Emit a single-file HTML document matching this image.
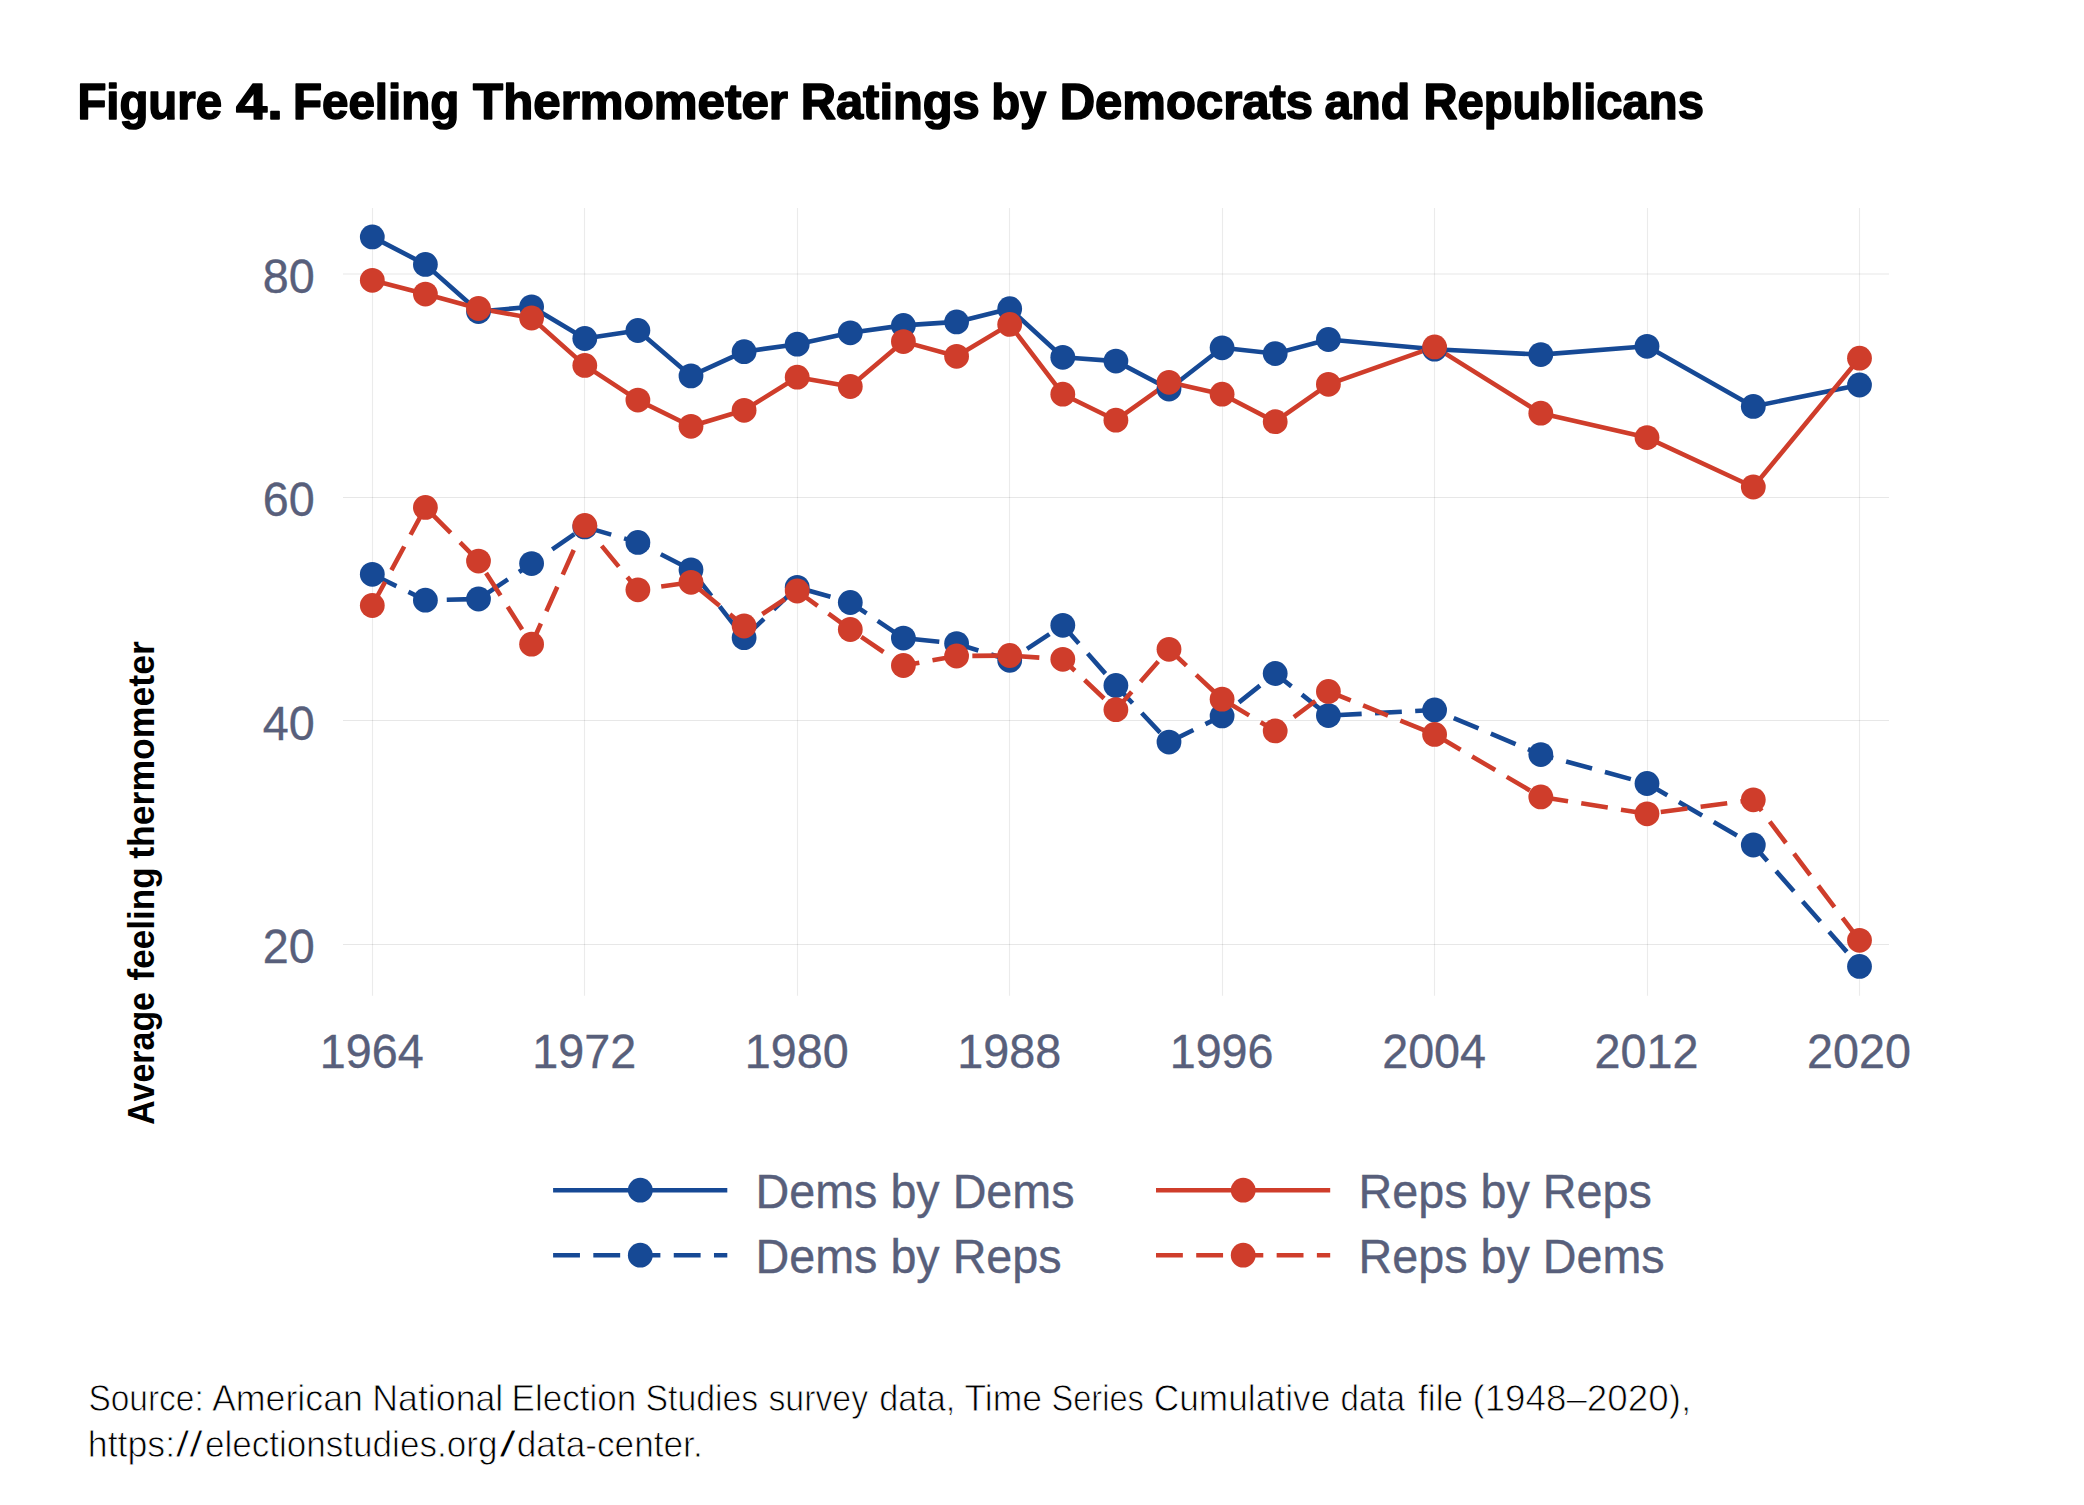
<!DOCTYPE html>
<html lang="en"><head><meta charset="utf-8"><title>Figure 4. Feeling Thermometer Ratings by Democrats and Republicans</title>
<style>
html,body{margin:0;padding:0;background:#fff}
svg{display:block}
text{font-family:"Liberation Sans",sans-serif}
.ax{font-size:46.7px;fill:#585f7b;stroke:#585f7b;stroke-width:0.35px}
.ttl{font-weight:bold;font-size:50.6px;fill:#000;stroke:#000;stroke-width:1.6px;stroke-linejoin:round}
.yl{font-weight:bold;font-size:36px;fill:#000}
.note{font-size:36px;fill:#000;stroke:#fff;stroke-width:0.8px}
</style></head><body>
<svg width="2084" height="1505" viewBox="0 0 2084 1505">
<rect width="2084" height="1505" fill="#fff"/>
<text class="ttl" y="118.5"><tspan x="77.4" textLength="144.6" lengthAdjust="spacingAndGlyphs">Figure</tspan> <tspan x="236.1" textLength="46.8" lengthAdjust="spacingAndGlyphs">4.</tspan> <tspan x="292.9" textLength="166.5" lengthAdjust="spacingAndGlyphs">Feeling</tspan> <tspan x="473.1" textLength="314.9" lengthAdjust="spacingAndGlyphs">Thermometer</tspan> <tspan x="800.7" textLength="179.1" lengthAdjust="spacingAndGlyphs">Ratings</tspan> <tspan x="991.2" textLength="55.2" lengthAdjust="spacingAndGlyphs">by</tspan> <tspan x="1059.7" textLength="253.4" lengthAdjust="spacingAndGlyphs">Democrats</tspan> <tspan x="1324.4" textLength="86.0" lengthAdjust="spacingAndGlyphs">and</tspan> <tspan x="1423.4" textLength="280.5" lengthAdjust="spacingAndGlyphs">Republicans</tspan></text>
<g stroke="#000" fill="none"><line x1="343" x2="1889" y1="274.0" y2="274.0" stroke-opacity="0.095" stroke-width="1.15"/><line x1="343" x2="1889" y1="497.5" y2="497.5" stroke-opacity="0.095" stroke-width="1.15"/><line x1="343" x2="1889" y1="720.5" y2="720.5" stroke-opacity="0.095" stroke-width="1.15"/><line x1="343" x2="1889" y1="944.5" y2="944.5" stroke-opacity="0.095" stroke-width="1.15"/><line x1="372.5" x2="372.5" y1="208" y2="995.7" stroke-opacity="0.08" stroke-width="1.15"/><line x1="584.5" x2="584.5" y1="208" y2="995.7" stroke-opacity="0.08" stroke-width="1.15"/><line x1="797.5" x2="797.5" y1="208" y2="995.7" stroke-opacity="0.08" stroke-width="1.15"/><line x1="1009.5" x2="1009.5" y1="208" y2="995.7" stroke-opacity="0.08" stroke-width="1.15"/><line x1="1222.5" x2="1222.5" y1="208" y2="995.7" stroke-opacity="0.08" stroke-width="1.15"/><line x1="1434.5" x2="1434.5" y1="208" y2="995.7" stroke-opacity="0.08" stroke-width="1.15"/><line x1="1647.5" x2="1647.5" y1="208" y2="995.7" stroke-opacity="0.08" stroke-width="1.15"/><line x1="1859.5" x2="1859.5" y1="208" y2="995.7" stroke-opacity="0.08" stroke-width="1.15"/></g>
<text class="ax" transform="translate(314.6,292.8) scale(1,1.03)" text-anchor="end">80</text><text class="ax" transform="translate(314.6,516.3) scale(1,1.03)" text-anchor="end">60</text><text class="ax" transform="translate(314.6,739.5) scale(1,1.03)" text-anchor="end">40</text><text class="ax" transform="translate(314.6,963.3) scale(1,1.03)" text-anchor="end">20</text>
<text class="ax" transform="translate(371.8,1067.7) scale(1,1.03)" text-anchor="middle">1964</text><text class="ax" transform="translate(584.3,1067.7) scale(1,1.03)" text-anchor="middle">1972</text><text class="ax" transform="translate(796.7,1067.7) scale(1,1.03)" text-anchor="middle">1980</text><text class="ax" transform="translate(1009.2,1067.7) scale(1,1.03)" text-anchor="middle">1988</text><text class="ax" transform="translate(1221.6,1067.7) scale(1,1.03)" text-anchor="middle">1996</text><text class="ax" transform="translate(1434.1,1067.7) scale(1,1.03)" text-anchor="middle">2004</text><text class="ax" transform="translate(1646.5,1067.7) scale(1,1.03)" text-anchor="middle">2012</text><text class="ax" transform="translate(1859.0,1067.7) scale(1,1.03)" text-anchor="middle">2020</text>
<text class="yl" transform="translate(154.1,1124.7) rotate(-90)" y="0"><tspan x="0.0" textLength="132.7" lengthAdjust="spacingAndGlyphs">Average</tspan> <tspan x="144.2" textLength="113.2" lengthAdjust="spacingAndGlyphs">feeling</tspan> <tspan x="265.9" textLength="217.6" lengthAdjust="spacingAndGlyphs">thermometer</tspan></text>
<g fill="none" stroke-width="4.6" stroke-linejoin="round"><polyline stroke="#164995" points="372.3,236.9 425.4,264.4 478.5,311.5 531.6,306.8 584.8,338.5 637.9,330.5 691.0,375.9 744.1,351.7 797.2,344.2 850.3,332.8 903.4,325.4 956.6,321.9 1009.7,308.7 1062.8,357.3 1115.9,361.1 1169.0,389.0 1222.1,347.8 1275.2,353.6 1328.4,339.5 1434.6,349.2 1540.8,354.6 1647.0,346.3 1753.3,406.4 1859.5,385.0"/><polyline stroke="#164995" stroke-dasharray="26.85 13.37" points="372.3,574.3 425.4,600.2 478.5,599.0 531.6,563.6 584.8,526.9 637.9,542.4 691.0,569.8 744.1,637.7 797.2,587.3 850.3,602.5 903.4,638.1 956.6,643.6 1009.7,660.3 1062.8,625.3 1115.9,685.5 1169.0,742.1 1222.1,715.9 1275.2,673.5 1328.4,715.6 1434.6,710.0 1540.8,754.6 1647.0,783.5 1753.3,845.0 1859.5,966.4"/><polyline stroke="#cf3d2b" points="372.3,280.3 425.4,294.1 478.5,308.5 531.6,318.0 584.8,365.4 637.9,400.1 691.0,426.3 744.1,410.3 797.2,377.2 850.3,386.5 903.4,341.6 956.6,356.3 1009.7,324.4 1062.8,394.2 1115.9,420.2 1169.0,382.3 1222.1,394.2 1275.2,421.7 1328.4,384.3 1434.6,346.9 1540.8,413.2 1647.0,437.6 1753.3,487.0 1859.5,358.2"/><polyline stroke="#cf3d2b" stroke-dasharray="26.85 13.37" points="372.3,605.5 425.4,507.4 478.5,561.1 531.6,644.2 584.8,525.4 637.9,589.8 691.0,582.3 744.1,626.0 797.2,591.0 850.3,629.5 903.4,665.5 956.6,656.0 1009.7,655.5 1062.8,659.3 1115.9,709.7 1169.0,649.3 1222.1,699.2 1275.2,730.9 1328.4,691.4 1434.6,734.4 1540.8,796.9 1647.0,813.8 1753.3,799.8 1859.5,940.3"/></g>
<g fill="#164995"><circle cx="372.3" cy="236.9" r="12.4"/><circle cx="425.4" cy="264.4" r="12.4"/><circle cx="478.5" cy="311.5" r="12.4"/><circle cx="531.6" cy="306.8" r="12.4"/><circle cx="584.8" cy="338.5" r="12.4"/><circle cx="637.9" cy="330.5" r="12.4"/><circle cx="691.0" cy="375.9" r="12.4"/><circle cx="744.1" cy="351.7" r="12.4"/><circle cx="797.2" cy="344.2" r="12.4"/><circle cx="850.3" cy="332.8" r="12.4"/><circle cx="903.4" cy="325.4" r="12.4"/><circle cx="956.6" cy="321.9" r="12.4"/><circle cx="1009.7" cy="308.7" r="12.4"/><circle cx="1062.8" cy="357.3" r="12.4"/><circle cx="1115.9" cy="361.1" r="12.4"/><circle cx="1169.0" cy="389.0" r="12.4"/><circle cx="1222.1" cy="347.8" r="12.4"/><circle cx="1275.2" cy="353.6" r="12.4"/><circle cx="1328.4" cy="339.5" r="12.4"/><circle cx="1434.6" cy="349.2" r="12.4"/><circle cx="1540.8" cy="354.6" r="12.4"/><circle cx="1647.0" cy="346.3" r="12.4"/><circle cx="1753.3" cy="406.4" r="12.4"/><circle cx="1859.5" cy="385.0" r="12.4"/><circle cx="372.3" cy="574.3" r="12.4"/><circle cx="425.4" cy="600.2" r="12.4"/><circle cx="478.5" cy="599.0" r="12.4"/><circle cx="531.6" cy="563.6" r="12.4"/><circle cx="584.8" cy="526.9" r="12.4"/><circle cx="637.9" cy="542.4" r="12.4"/><circle cx="691.0" cy="569.8" r="12.4"/><circle cx="744.1" cy="637.7" r="12.4"/><circle cx="797.2" cy="587.3" r="12.4"/><circle cx="850.3" cy="602.5" r="12.4"/><circle cx="903.4" cy="638.1" r="12.4"/><circle cx="956.6" cy="643.6" r="12.4"/><circle cx="1009.7" cy="660.3" r="12.4"/><circle cx="1062.8" cy="625.3" r="12.4"/><circle cx="1115.9" cy="685.5" r="12.4"/><circle cx="1169.0" cy="742.1" r="12.4"/><circle cx="1222.1" cy="715.9" r="12.4"/><circle cx="1275.2" cy="673.5" r="12.4"/><circle cx="1328.4" cy="715.6" r="12.4"/><circle cx="1434.6" cy="710.0" r="12.4"/><circle cx="1540.8" cy="754.6" r="12.4"/><circle cx="1647.0" cy="783.5" r="12.4"/><circle cx="1753.3" cy="845.0" r="12.4"/><circle cx="1859.5" cy="966.4" r="12.4"/></g>
<g fill="#cf3d2b"><circle cx="372.3" cy="280.3" r="12.4"/><circle cx="425.4" cy="294.1" r="12.4"/><circle cx="478.5" cy="308.5" r="12.4"/><circle cx="531.6" cy="318.0" r="12.4"/><circle cx="584.8" cy="365.4" r="12.4"/><circle cx="637.9" cy="400.1" r="12.4"/><circle cx="691.0" cy="426.3" r="12.4"/><circle cx="744.1" cy="410.3" r="12.4"/><circle cx="797.2" cy="377.2" r="12.4"/><circle cx="850.3" cy="386.5" r="12.4"/><circle cx="903.4" cy="341.6" r="12.4"/><circle cx="956.6" cy="356.3" r="12.4"/><circle cx="1009.7" cy="324.4" r="12.4"/><circle cx="1062.8" cy="394.2" r="12.4"/><circle cx="1115.9" cy="420.2" r="12.4"/><circle cx="1169.0" cy="382.3" r="12.4"/><circle cx="1222.1" cy="394.2" r="12.4"/><circle cx="1275.2" cy="421.7" r="12.4"/><circle cx="1328.4" cy="384.3" r="12.4"/><circle cx="1434.6" cy="346.9" r="12.4"/><circle cx="1540.8" cy="413.2" r="12.4"/><circle cx="1647.0" cy="437.6" r="12.4"/><circle cx="1753.3" cy="487.0" r="12.4"/><circle cx="1859.5" cy="358.2" r="12.4"/><circle cx="372.3" cy="605.5" r="12.4"/><circle cx="425.4" cy="507.4" r="12.4"/><circle cx="478.5" cy="561.1" r="12.4"/><circle cx="531.6" cy="644.2" r="12.4"/><circle cx="584.8" cy="525.4" r="12.4"/><circle cx="637.9" cy="589.8" r="12.4"/><circle cx="691.0" cy="582.3" r="12.4"/><circle cx="744.1" cy="626.0" r="12.4"/><circle cx="797.2" cy="591.0" r="12.4"/><circle cx="850.3" cy="629.5" r="12.4"/><circle cx="903.4" cy="665.5" r="12.4"/><circle cx="956.6" cy="656.0" r="12.4"/><circle cx="1009.7" cy="655.5" r="12.4"/><circle cx="1062.8" cy="659.3" r="12.4"/><circle cx="1115.9" cy="709.7" r="12.4"/><circle cx="1169.0" cy="649.3" r="12.4"/><circle cx="1222.1" cy="699.2" r="12.4"/><circle cx="1275.2" cy="730.9" r="12.4"/><circle cx="1328.4" cy="691.4" r="12.4"/><circle cx="1434.6" cy="734.4" r="12.4"/><circle cx="1540.8" cy="796.9" r="12.4"/><circle cx="1647.0" cy="813.8" r="12.4"/><circle cx="1753.3" cy="799.8" r="12.4"/><circle cx="1859.5" cy="940.3" r="12.4"/></g>
<line x1="553.1" x2="727.3" y1="1190.2" y2="1190.2" stroke="#164995" stroke-width="4.6"/><circle cx="640.3" cy="1190.2" r="12.4" fill="#164995"/><text class="ax" transform="translate(755.5,1208.4) scale(1,1.03)" text-anchor="start">Dems by Dems</text>
<line x1="553.1" x2="727.3" y1="1255.2" y2="1255.2" stroke="#164995" stroke-width="4.6" stroke-dasharray="26.85 13.37"/><circle cx="640.3" cy="1255.2" r="12.4" fill="#164995"/><text class="ax" transform="translate(755.5,1273.4) scale(1,1.03)" text-anchor="start">Dems by Reps</text>
<line x1="1156" x2="1330.2" y1="1190.2" y2="1190.2" stroke="#cf3d2b" stroke-width="4.6"/><circle cx="1243.2" cy="1190.2" r="12.4" fill="#cf3d2b"/><text class="ax" transform="translate(1358.5,1208.4) scale(1,1.03)" text-anchor="start">Reps by Reps</text>
<line x1="1156" x2="1330.2" y1="1255.2" y2="1255.2" stroke="#cf3d2b" stroke-width="4.6" stroke-dasharray="26.85 13.37"/><circle cx="1243.2" cy="1255.2" r="12.4" fill="#cf3d2b"/><text class="ax" transform="translate(1358.5,1273.4) scale(1,1.03)" text-anchor="start">Reps by Dems</text>
<text class="note" y="1411.2"><tspan x="88.4" textLength="115.4" lengthAdjust="spacingAndGlyphs">Source:</tspan> <tspan x="211.9" textLength="151.1" lengthAdjust="spacingAndGlyphs">American</tspan> <tspan x="372.3" textLength="131.0" lengthAdjust="spacingAndGlyphs">National</tspan> <tspan x="511.5" textLength="124.8" lengthAdjust="spacingAndGlyphs">Election</tspan> <tspan x="645.5" textLength="112.7" lengthAdjust="spacingAndGlyphs">Studies</tspan> <tspan x="768.4" textLength="99.7" lengthAdjust="spacingAndGlyphs">survey</tspan> <tspan x="879.3" textLength="76.0" lengthAdjust="spacingAndGlyphs">data,</tspan> <tspan x="964.5" textLength="77.6" lengthAdjust="spacingAndGlyphs">Time</tspan> <tspan x="1051.5" textLength="92.4" lengthAdjust="spacingAndGlyphs">Series</tspan> <tspan x="1153.7" textLength="176.6" lengthAdjust="spacingAndGlyphs">Cumulative</tspan> <tspan x="1340.5" textLength="64.4" lengthAdjust="spacingAndGlyphs">data</tspan> <tspan x="1418.0" textLength="45.3" lengthAdjust="spacingAndGlyphs">file</tspan> <tspan x="1472.4" textLength="218.7" lengthAdjust="spacingAndGlyphs">(1948–2020),</tspan></text>
<text class="note" y="1456.7"><tspan x="87.8" textLength="87.3" lengthAdjust="spacingAndGlyphs">https:</tspan><tspan x="175.8" textLength="27.1" lengthAdjust="spacingAndGlyphs">//</tspan><tspan x="204.9" textLength="292.5" lengthAdjust="spacingAndGlyphs">electionstudies.org</tspan><tspan x="499.2" textLength="16.9" lengthAdjust="spacingAndGlyphs">/</tspan><tspan x="516.7" textLength="186.0" lengthAdjust="spacingAndGlyphs">data-center.</tspan></text>
</svg></body></html>
